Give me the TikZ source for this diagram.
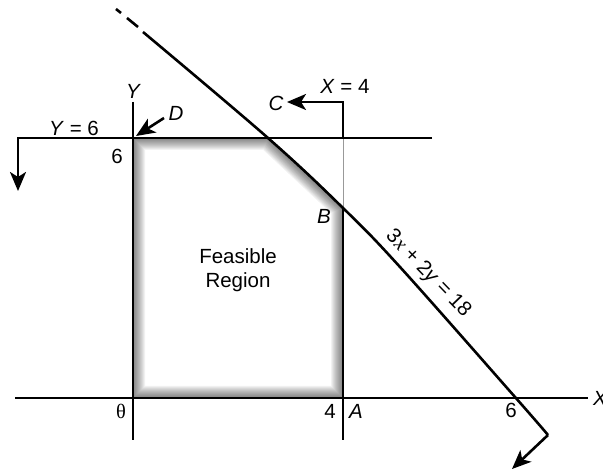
\documentclass[tikz,border=0pt]{standalone}
\usepackage{fontspec}
\setmainfont{Liberation Sans}
\newfontfamily\serifgr{Liberation Serif}
\usetikzlibrary{arrows.meta}
\begin{document}
\begin{tikzpicture}[x=1pt,y=-1pt,
  ln/.style={line width=2.6pt},
  arr/.style={ln,-{Stealth[length=19pt,width=16pt,inset=5pt]}},
  lab/.style={font=\fontsize{20.5}{24}\selectfont, inner sep=0pt},
  ilab/.style={font=\fontsize{20.5}{24}\selectfont\itshape, inner sep=0pt}]
\useasboundingbox (0,0) rectangle (603,470);
% key points
\coordinate (O) at (133,398);
\coordinate (Ytop) at (133,102);
\coordinate (Ybot) at (133,440);
\coordinate (Xl) at (15,398);
\coordinate (Xr) at (588,398);
\coordinate (Y6r) at (432,138);
\coordinate (Y6l) at (18,138);
\coordinate (Y6tip) at (18,191);
\coordinate (Dp) at (133,138);
\coordinate (X4top) at (343,102);
\coordinate (X4bot) at (343,440);
\coordinate (Ctip) at (287,102);
\coordinate (E) at (268,138);
\coordinate (B) at (343,208);
\coordinate (A) at (343,398);
\coordinate (X4y6) at (343,138);
\coordinate (L0) at (143,32);
\coordinate (L3) at (400,267);
\coordinate (L4) at (515,397);
\coordinate (L5) at (548,435);
\coordinate (Ltip) at (512,469);
\coordinate (d1a) at (116,9);
\coordinate (d1b) at (121,13);
\coordinate (d2a) at (127,18);
\coordinate (d2b) at (138,27);
\coordinate (Dstart) at (164,118);
\coordinate (Dtip) at (136,136);
% inner shadow of the feasible region
\begin{scope}
  \clip (O) -- (Dp) -- (E) -- (B) -- (A) -- cycle;
  \foreach \w in {4,6,...,24}
    \draw[line width=\w pt, black, opacity=0.05, line join=round] (O) -- (Dp) -- (E) -- (B) -- (A) -- cycle;
\end{scope}
% lines
\draw[line width=1pt, black!40] (X4y6) -- (B);
\draw[ln] (Xl) -- (Xr);
\draw[ln] (Ytop) -- (Ybot);
\draw[ln] (B) -- (X4bot);
\draw[arr] (X4y6) -- (X4top) -- (Ctip);
\draw[arr] (Y6r) -- (Y6l) -- (Y6tip);
\draw[arr] (Dstart) -- (Dtip);
\draw[ln] plot[smooth, tension=0.6] coordinates {(L0) (E) (B) (L3) (L4) (L5)};
\draw[arr] (L5) -- (Ltip);
\draw[ln] (d1a) -- (d1b);
\draw[ln] (d2a) -- (d2b);
% labels
\node[ilab] (ylab) at (133,91) {Y};
\node[lab] (y6lab) at (74,128) {\textit{Y} = 6};
\node[lab] (six1) at (117,156) {6};
\node[ilab] (dlab) at (176,113) {D};
\node[ilab] (clab) at (276,103) {C};
\node[lab] (x4lab) at (345,86) {\textit{X} = 4};
\node[ilab] (blab) at (324,216) {B};
\node[lab, align=center] (feas) at (238,270) {Feasible\\Region};
\node[lab] (theta) at (121,411) {\serifgr θ};
\node[lab] (four) at (330,411) {4};
\node[ilab] (alab) at (356,411) {A};
\node[lab] (six2) at (511,410) {6};
\node[ilab] (xlab) at (600,398) {X};
\node[lab, rotate=-46] (eq) at (428,274) {3{\serifgr\itshape x} + 2\textit{y} = 18};
\end{tikzpicture}
\end{document}
